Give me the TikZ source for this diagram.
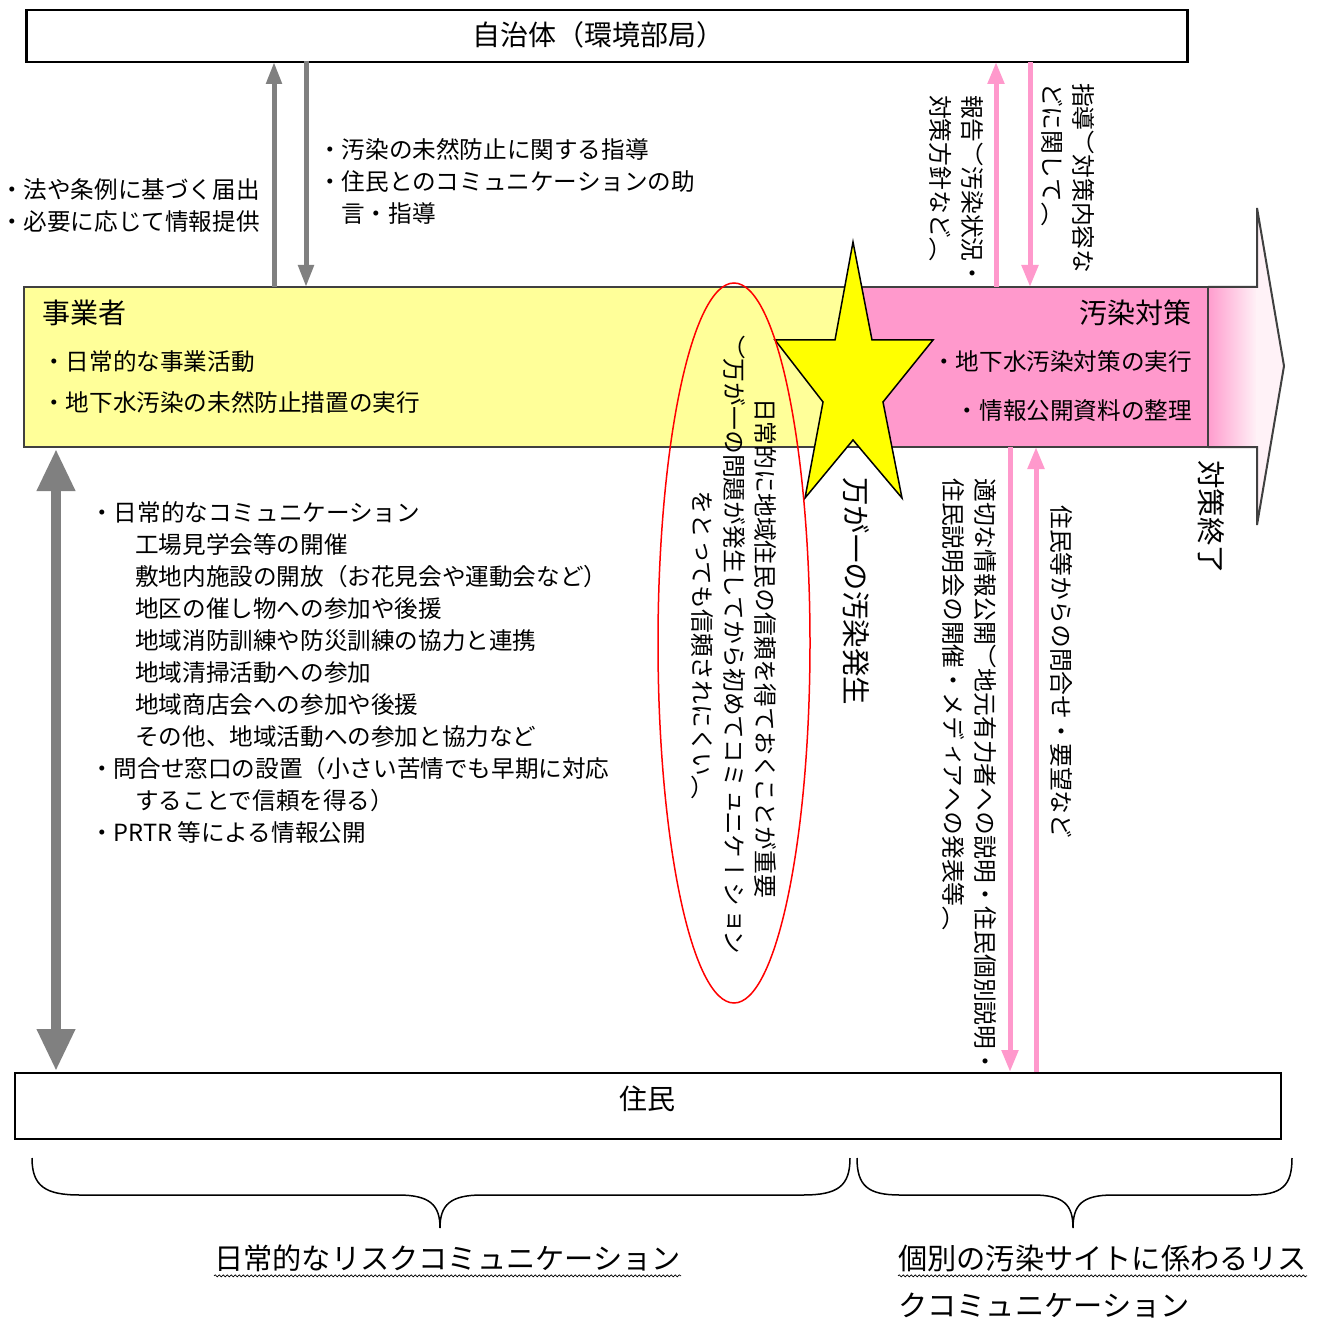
\documentclass[tikz,border=0pt]{standalone}
\usepackage{fontspec}
\usepackage{graphicx}
\setmainfont{Noto Sans CJK JP}
\newfontfamily\vjp[Vertical=RotatedGlyphs]{Noto Sans CJK JP}
\newcommand\vparen[1]{\begingroup
  \sbox0{日}%
  \sbox2{\rotatebox[origin=c]{90}{\rmfamily #1}}%
  \makebox[1em][c]{\raisebox{\dimexpr(\ht0-\dp0)/2-(\ht2-\dp2)/2\relax}{\usebox2}}\endgroup}
\newcommand\vpo{\vparen{（}}
\newcommand\vpc{\vparen{）}}
\usetikzlibrary{arrows.meta,decorations.pathmorphing,calc}
\definecolor{yel}{HTML}{FFFF99}
\definecolor{pnk}{HTML}{FF99CC}
\definecolor{headc}{HTML}{FFF2F7}
\definecolor{gry}{HTML}{808080}
\definecolor{edge}{HTML}{404040}
\definecolor{staryel}{HTML}{FFFF00}
\tikzset{
  t/.style={font=\fontsize{23.6}{28}\selectfont, inner sep=0pt, text height=20.8pt, text depth=2.8pt},
  tb/.style={font=\fontsize{28}{34}\selectfont, inner sep=0pt, text height=24.6pt, text depth=3.4pt},
  tl/.style={font=\fontsize{29.2}{34}\selectfont, inner sep=0pt, text height=25.7pt, text depth=3.5pt},
  vt/.style={font=\vjp\fontsize{23.8}{28}\selectfont, inner sep=0pt, rotate=-90, anchor=west},
  vtb/.style={font=\vjp\fontsize{28.5}{34}\selectfont, inner sep=0pt, rotate=-90, anchor=west},
  garrow/.style={draw=gry, line width=5pt, -{Triangle[width=15pt,length=22pt]}},
  parrow/.style={draw=pnk, line width=5pt, -{Triangle[width=16pt,length=22pt]}},
  bigarrow/.style={draw=gry, line width=10pt, {Triangle[width=36pt,length=42pt]}-{Triangle[width=36pt,length=42pt]}},
  boxline/.style={draw=edge, line width=2pt},
  brace/.style={draw=black, line width=1.5pt},
}
\begin{document}
\begin{tikzpicture}[x=1pt,y=-1pt]
\useasboundingbox (0,0) rectangle (1325,1321);
\fill[white] (0,0) rectangle (1325,1321);

% big right arrow behind the boxes
\shade[left color=pnk, right color=headc] (1206,288) rectangle (1257,446);
\fill[headc] (1257,208) -- (1284,366) -- (1257,525) -- cycle;
\fill[headc] (1256,288) rectangle (1258,446);
\draw[boxline] (1208,287) -- (1257,287) -- (1257,208) -- (1284,366) -- (1257,525) -- (1257,447) -- (1208,447);

% boxes
\node[draw=black, line width=2.5pt, minimum width=1161pt, minimum height=52pt, anchor=north west, inner sep=0pt] (jichitai) at (25,9) {};
\node[tb] (jichitaiT) at (598,35) {自治体（環境部局）};

\node[fill=yel, minimum width=834pt, minimum height=160pt, anchor=north west, inner sep=0pt] (jigyo) at (24,287) {};
\node[fill=pnk, minimum width=350pt, minimum height=160pt, anchor=north west, inner sep=0pt] (osen) at (858,287) {};
\draw[boxline] (jigyo.north west) rectangle (osen.south east);
\draw[boxline] (osen.north east) -- (osen.south east);

\node[draw=black, line width=2pt, minimum width=1266pt, minimum height=66pt, anchor=north west, inner sep=0pt] (jumin) at (14,1072) {};
\node[tb] (juminT) at (647,1099) {住民};

% gray arrows
\coordinate (g1a) at (274,287); \coordinate (g1b) at (274,62);
\coordinate (g2a) at (306,61);  \coordinate (g2b) at (306,287);
\draw[garrow] (g1a) -- (g1b);
\draw[garrow] (g2a) -- (g2b);
\coordinate (g3a) at (56,449); \coordinate (g3b) at (56,1071);
\draw[bigarrow] (g3a) -- (g3b);

% pink arrows
\coordinate (p1a) at (996,287); \coordinate (p1b) at (996,62);
\coordinate (p2a) at (1030,62); \coordinate (p2b) at (1030,287);
\coordinate (p3a) at (1010,447); \coordinate (p3b) at (1010,1072);
\coordinate (p4a) at (1036,1072); \coordinate (p4b) at (1036,447);
\draw[parrow] (p1a) -- (p1b);
\draw[parrow] (p2a) -- (p2b);
\draw[parrow] (p3a) -- (p3b);
\draw[parrow] (p4a) -- (p4b);

% star
\filldraw[fill=staryel, draw=black, line width=1.5pt, line join=miter]
 (853,242) -- (872,340) -- (933,340) -- (883,402) -- (902,498) -- (853,440)
 -- (805,498) -- (823,402) -- (775,340) -- (835,340) -- cycle;

% red ellipse
\draw[red, line width=1.5pt] (734,643) ellipse [x radius=76, y radius=360];

% texts: left upper
\node[t, anchor=west] (la1) at (0,190) {・法や条例に基づく届出};
\node[t, anchor=west] (la2) at (0,222) {・必要に応じて情報提供};
\node[t, anchor=west] (ra1) at (318,150) {・汚染の未然防止に関する指導};
\node[t, anchor=west] (ra2) at (318,182) {・住民とのコミュニケーションの助};
\node[t, anchor=west] (ra3) at (341,214) {言・指導};

% business box
\node[tb, anchor=west] (jt) at (42,313) {事業者};
\node[t, anchor=west] (j1) at (42,362) {・日常的な事業活動};
\node[t, anchor=west] (j2) at (42,402) {・地下水汚染の未然防止措置の実行};
\node[tb, anchor=east] (ot) at (1192,313) {汚染対策};
\node[t, anchor=east] (o1) at (1192,362) {・地下水汚染対策の実行};
\node[t, anchor=east] (o2) at (1192,410) {・情報公開資料の整理};

% left block
\node[t, anchor=west] (b0) at (90,512) {・日常的なコミュニケーション};
\foreach \s [count=\i] in {工場見学会等の開催,敷地内施設の開放（お花見会や運動会など）,地区の催し物への参加や後援,地域消防訓練や防災訓練の協力と連携,地域清掃活動への参加,地域商店会への参加や後援,その他、地域活動への参加と協力など}
  \node[t, anchor=west] (b\i) at (135,512+32*\i) {\s};
\node[t, anchor=west] (b8) at (90,768) {・問合せ窓口の設置（小さい苦情でも早期に対応};
\node[t, anchor=west] (b9) at (135,800) {することで信頼を得る）};
\node[t, anchor=west] (b10) at (90,832) {・PRTR 等による情報公開};

% vertical texts
\node[vt] (v1) at (972,95) {報告\vpo 汚染状況・};
\node[vt] (v2) at (940,95) {対策方針など\vpc};
\node[vt] (v3) at (1083,83) {指導\vpo 対策内容な};
\node[vt] (v4) at (1052,83) {どに関して\vpc};
\node[vt] (v5) at (985,478) {適切な情報公開\vpo 地元有力者への説明・住民個別説明・};
\node[vt] (v6) at (953,478) {住民説明会の開催・メディアへの発表等\vpc};
\node[vt] (v7) at (1062,505) {住民等からの問合せ・要望など};
\node[vtb] (v8) at (856,477) {万が一の汚染発生};
\node[vtb] (v9) at (1211,460) {対策終了};
\node[vt] (e1) at (766,398) {日常的に地域住民の信頼を得ておくことが重要};
\node[vt] (e2) at (734,335) {\vpo 万が一の問題が発生してから初めてコミュニケーション};
\node[vt] (e3) at (702,490) {をとっても信頼されにくい\vpc};

% braces
\draw[brace] (32,1158) .. controls (32,1186) and (45,1195) .. (80,1195) -- (398,1195)
  .. controls (430,1195) and (440,1205) .. (440,1228)
  .. controls (440,1205) and (450,1195) .. (482,1195) -- (803,1195)
  .. controls (838,1195) and (850,1186) .. (850,1158);
\draw[brace] (857,1158) .. controls (857,1186) and (868,1195) .. (900,1195) -- (1033,1195)
  .. controls (1064,1195) and (1073,1205) .. (1073,1228)
  .. controls (1073,1205) and (1082,1195) .. (1113,1195) -- (1250,1195)
  .. controls (1282,1195) and (1292,1186) .. (1292,1158);

% bottom labels
\node[tl, anchor=west] (c1) at (214,1258) {日常的なリスクコミュニケーション};
\node[tl, anchor=west] (c2) at (898,1258) {個別の汚染サイトに係わるリス};
\node[tl, anchor=west] (c3) at (898,1305) {クコミュニケーション};
\draw[decorate, decoration={snake, amplitude=1pt, segment length=4pt}, line width=0.7pt] ($(c1.south west)+(0,3)$) -- ($(c1.south east)+(0,3)$);
\draw[decorate, decoration={snake, amplitude=1pt, segment length=4pt}, line width=0.7pt] ($(c2.south west)+(0,3)$) -- ($(c2.south east)+(0,3)$);
\draw[densely dotted, line width=0.8pt] ($(c3.south west)+(0,3)$) -- ($(c3.south east)+(0,3)$);
\end{tikzpicture}
\end{document}
